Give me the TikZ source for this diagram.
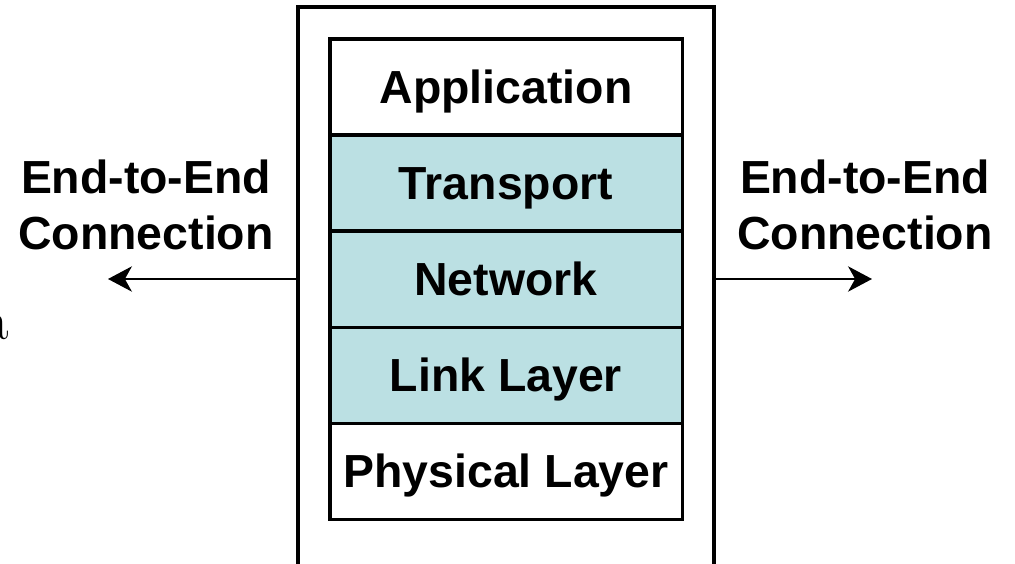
\documentclass[tikz,border=0pt]{standalone}
\usepackage{fontspec}
\newfontfamily\layerfont{Liberation Sans}
\usepackage{tikz}
\usetikzlibrary{arrows,arrows.meta,positioning}
\definecolor{layerfill}{RGB}{187,224,227}

\begin{document}
\begin{tikzpicture}[x=0.025cm,y=-0.025cm,>={Stealth[length=17pt,width=18pt,inset=5pt]},
                    node distance=0pt]
  \tikzstyle{layer}=[rectangle,draw=black,line width=2.2pt,fill=white,outer sep=0pt,
                     minimum width=8.8cm,minimum height=2.4cm,
                     text height=23.6pt,text depth=0pt,
                     font=\layerfont\bfseries\fontsize{33}{40}\selectfont]
  \tikzstyle{shaded}=[layer,fill=layerfill]
  \tikzstyle{endlabel}=[align=center,font=\layerfont\bfseries\fontsize{33}{40}\selectfont]
  \useasboundingbox (0,0) rectangle (1015,564);

  % outer box, open below the picture
  \draw[line width=2.2pt] (298,580) -- (298,7) -- (714,7) -- (714,580);
  \coordinate (leftside) at (298,279);
  \coordinate (rightside) at (714,279);
  \coordinate (lefttip) at (108,279);
  \coordinate (righttip) at (872,279);

  % protocol stack
  \node[layer]  (app)  at (506,87)  {Application};
  \node[shaded] (trans) [below=of app]   {Transport};
  \node[shaded] (net)   [below=of trans] {Network};
  \node[shaded] (link)  [below=of net]   {Link Layer};
  \node[layer]  (phys)  [below=of link]  {Physical Layer};

  \node[endlabel] (leftlbl)  at (146,205) {End-to-End\\Connection};
  \node[endlabel] (rightlbl) at (865,205) {End-to-End\\Connection};

  \node[anchor=base east,font=\fontsize{41}{41}\selectfont,inner sep=0pt] (stray) at (9,340) {a};

  \draw[->,line width=1.4pt] (leftside) -- (lefttip);
  \draw[->,line width=1.4pt] (rightside) -- (righttip);
\end{tikzpicture}
\end{document}
